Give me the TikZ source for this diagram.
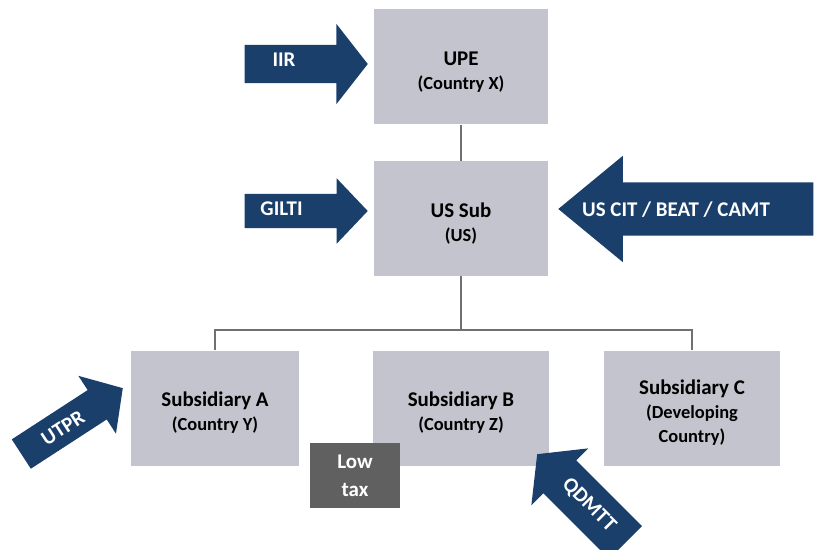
\documentclass[tikz,border=0pt]{standalone}
\usepackage{fontspec}
\setmainfont{Carlito}
\usetikzlibrary{shapes.arrows}
\definecolor{boxgray}{RGB}{195,196,205}
\definecolor{taxblue}{RGB}{26,63,107}
\definecolor{lowgray}{RGB}{96,96,96}
\definecolor{linegray}{RGB}{112,112,112}

\tikzset{
  entity/.style={fill=boxgray, minimum width=174bp, minimum height=115bp,
    inner sep=0pt, align=center, font=\bfseries\fontsize{21}{24}\selectfont},
  taxarrow/.style={single arrow, fill=taxblue, inner xsep=0pt, anchor=tip},
  arrowtext/.style={text=white, font=\bfseries\fontsize{21}{24}\selectfont},
  conn/.style={draw=linegray, line width=1.2bp}
}
\newcommand{\subline}[1]{{\fontsize{18.5}{21}\selectfont #1}}
\newcommand{\toprow}{\rule{0pt}{24bp}}

\begin{document}
\begin{tikzpicture}[x=1bp,y=-1bp]
    \useasboundingbox (0,0) rectangle (817,550);
    \clip (0,0) rectangle (817,550);

    % entities
    \node[entity] (upe) at (461,67) {\toprow UPE\\\subline{(Country X)}};
    \node[entity] (ussub) at (461,218.5) {\toprow US Sub\\\subline{(US)}};
    \node[entity, minimum width=168bp] (suba) at (215,408) {\toprow Subsidiary A\\\subline{(Country Y)}};
    \node[entity, minimum width=176bp] (subb) at (461,408) {\toprow Subsidiary B\\\subline{(Country Z)}};
    \node[entity, minimum width=176bp] (subc) at (692,408) {\toprow Subsidiary C\\\subline{(Developing}\\\subline{Country)}};
    \node[fill=lowgray, text=white, minimum width=90bp, minimum height=65bp, inner sep=0pt,
      align=center, font=\bfseries\fontsize{21}{28}\selectfont] (lowtax) at (355,475.5) {Low\\tax};

    % ownership lines
    \coordinate (bus) at (461,330);
    \draw[conn] (upe) -- (ussub);
    \draw[conn] (ussub) -- (bus);
    \draw[conn] (bus) -| (suba);
    \draw[conn] (bus) -| (subc);

    % tax rules
    \node[taxarrow, minimum height=123bp, inner ysep=19bp,
      single arrow head extend=21bp, single arrow tip angle=104] (iir) at (368,64) {};
    \node[arrowtext, anchor=base] (iirtext) at (284,67) {IIR};

    \node[taxarrow, minimum height=123bp, inner ysep=17bp,
      single arrow head extend=15.5bp, single arrow tip angle=93] (gilti) at (368,211) {};
    \node[arrowtext, anchor=base] (giltitext) at (281.5,216) {GILTI};

    \node[taxarrow, shape border rotate=180, minimum height=255bp, inner ysep=26.5bp,
      single arrow head extend=26.5bp, single arrow tip angle=79] (uscit) at (558,209) {};
    \node[arrowtext, anchor=base] (uscittext) at (676,216.5) {US CIT / BEAT / CAMT};

    \node[taxarrow, rotate=33, minimum height=121bp, inner ysep=17.3bp,
      single arrow head extend=17bp, single arrow tip angle=97] (utpr) at (123,388) {};
    \node[arrowtext, rotate=33] (utprtext) at (63,428) {UTPR};

    \node[taxarrow, rotate=-45, shape border rotate=180, minimum height=125bp, inner ysep=23bp,
      single arrow head extend=17bp, single arrow tip angle=103] (qdmtt) at (537,454) {};
    \node[arrowtext, rotate=-45] (qdmtttext) at (589,505) {QDMTT};
\end{tikzpicture}
\end{document}
